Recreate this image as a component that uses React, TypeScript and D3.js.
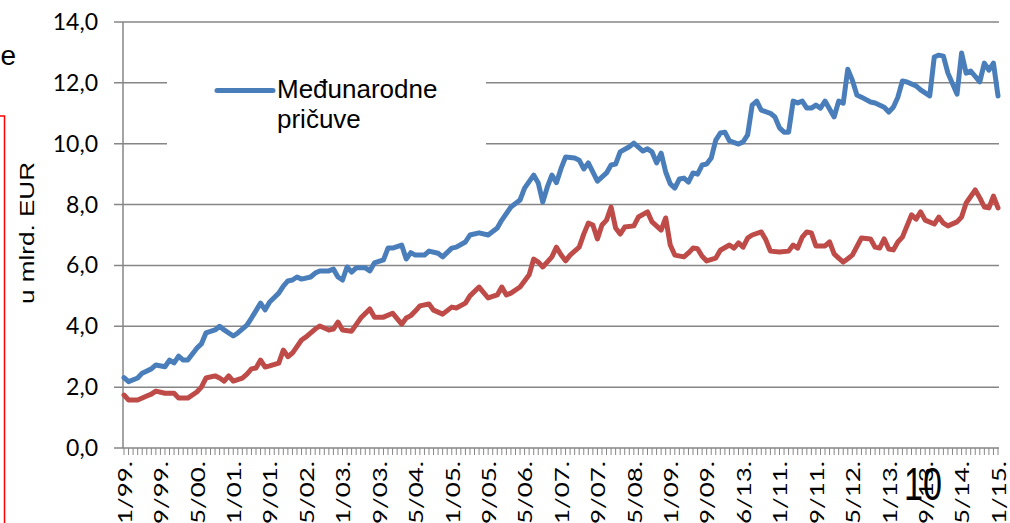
import * as d3 from 'd3'

// month index from 1/99 (0) to 1/15 (192)
const blueMonths = [0, 1, 3, 4, 6, 7, 9, 10, 11, 12, 13, 14, 16, 17, 18, 20, 21, 22, 24, 25, 27, 28, 30, 31, 32, 34, 35, 36, 37, 38, 39, 41, 42, 43, 45, 46, 47, 48, 49, 50, 51, 52, 53, 54, 55, 57, 58, 59, 61, 62, 63, 64, 66, 67, 69, 70, 72, 73, 75, 76, 78, 80, 82, 83, 85, 87, 88, 90, 91, 92, 93, 94, 95, 96, 97, 99, 100, 101, 102, 104, 106, 107, 108, 109, 111, 112, 114, 115, 116, 117, 118, 119, 120, 121, 122, 123, 124, 125, 126, 127, 128, 129, 130, 131, 132, 133, 135, 136, 137, 138, 139, 140, 142, 143, 144, 145, 146, 147, 148, 149, 150, 151, 152, 153, 154, 156, 157, 158, 159, 160, 161, 162, 164, 165, 167, 168, 169, 170, 171, 172, 174, 175, 177, 178, 179, 180, 181, 183, 184, 185, 186, 188, 189, 190, 191, 192]
const blueValues = [2.31, 2.18, 2.3, 2.46, 2.6, 2.73, 2.67, 2.89, 2.8, 3.02, 2.89, 2.89, 3.28, 3.42, 3.78, 3.88, 4.0, 3.88, 3.68, 3.78, 4.04, 4.27, 4.76, 4.54, 4.8, 5.09, 5.32, 5.49, 5.52, 5.62, 5.55, 5.62, 5.75, 5.82, 5.82, 5.88, 5.62, 5.52, 5.95, 5.78, 5.92, 5.92, 5.92, 5.82, 6.08, 6.18, 6.57, 6.57, 6.67, 6.21, 6.42, 6.34, 6.34, 6.47, 6.4, 6.28, 6.57, 6.6, 6.77, 7.0, 7.07, 7.0, 7.23, 7.49, 7.92, 8.15, 8.54, 8.97, 8.71, 8.08, 8.58, 8.97, 8.72, 9.18, 9.56, 9.53, 9.46, 9.17, 9.37, 8.77, 9.04, 9.3, 9.33, 9.73, 9.9, 10.02, 9.76, 9.83, 9.73, 9.37, 9.69, 9.07, 8.68, 8.54, 8.84, 8.87, 8.74, 9.04, 9.0, 9.3, 9.33, 9.53, 10.12, 10.35, 10.38, 10.09, 9.99, 10.06, 10.29, 11.27, 11.4, 11.1, 11.0, 10.88, 10.52, 10.38, 10.38, 11.4, 11.34, 11.4, 11.17, 11.17, 11.27, 11.17, 11.4, 10.88, 11.4, 11.33, 12.45, 12.09, 11.6, 11.53, 11.37, 11.34, 11.2, 11.04, 11.2, 11.53, 12.06, 12.03, 11.9, 11.77, 11.57, 12.85, 12.91, 12.88, 12.32, 11.63, 12.98, 12.32, 12.39, 12.03, 12.65, 12.42, 12.65, 11.57]

const redMonths = [0, 1, 3, 5, 6, 7, 9, 10, 11, 12, 14, 16, 17, 18, 20, 21, 22, 23, 24, 26, 27, 28, 29, 30, 31, 32, 34, 35, 36, 37, 39, 40, 42, 43, 45, 46, 47, 48, 50, 52, 54, 55, 57, 59, 61, 62, 63, 64, 65, 67, 68, 70, 72, 73, 75, 76, 78, 80, 82, 83, 84, 85, 87, 89, 90, 91, 92, 94, 95, 96, 97, 98, 100, 101, 102, 103, 104, 105, 106, 107, 108, 109, 110, 112, 113, 115, 116, 118, 119, 120, 121, 123, 124, 125, 126, 127, 128, 130, 131, 133, 134, 135, 136, 137, 138, 140, 141, 142, 144, 146, 147, 148, 149, 150, 151, 152, 154, 155, 156, 157, 158, 159, 160, 162, 164, 165, 166, 167, 168, 169, 170, 171, 173, 174, 175, 176, 178, 179, 180, 181, 183, 184, 185, 187, 188, 189, 190, 191, 192]
const redValues = [1.74, 1.58, 1.58, 1.71, 1.77, 1.87, 1.8, 1.8, 1.8, 1.64, 1.64, 1.84, 2.0, 2.3, 2.37, 2.3, 2.2, 2.37, 2.2, 2.3, 2.43, 2.6, 2.63, 2.89, 2.66, 2.7, 2.79, 3.22, 3.0, 3.12, 3.55, 3.65, 3.91, 4.01, 3.88, 3.91, 4.14, 3.88, 3.84, 4.27, 4.57, 4.3, 4.3, 4.43, 4.07, 4.27, 4.35, 4.5, 4.67, 4.73, 4.53, 4.4, 4.63, 4.6, 4.76, 5.0, 5.29, 4.93, 5.03, 5.29, 5.03, 5.09, 5.29, 5.69, 6.21, 6.11, 5.95, 6.28, 6.6, 6.35, 6.15, 6.34, 6.6, 7.03, 7.39, 7.33, 6.87, 7.33, 7.49, 7.92, 7.23, 7.03, 7.26, 7.3, 7.59, 7.76, 7.43, 7.16, 7.56, 6.67, 6.34, 6.28, 6.41, 6.57, 6.55, 6.3, 6.15, 6.24, 6.5, 6.67, 6.57, 6.74, 6.6, 6.9, 7.0, 7.1, 6.84, 6.47, 6.44, 6.47, 6.67, 6.57, 6.93, 7.1, 7.07, 6.64, 6.64, 6.77, 6.38, 6.24, 6.11, 6.22, 6.34, 6.9, 6.87, 6.6, 6.57, 6.87, 6.54, 6.51, 6.77, 6.93, 7.66, 7.52, 7.76, 7.49, 7.36, 7.59, 7.39, 7.3, 7.43, 7.59, 8.05, 8.48, 8.22, 7.92, 7.89, 8.28, 7.89]

const xLabels = ['1/99.', '9/99.', '5/00.', '1/01.', '9/01.', '5/02.', '1/03.', '9/03.', '5/04.', '1/05.', '9/05.', '5/06.', '1/07.', '9/07.', '5/08.', '1/09.', '9/09.', '6/13.', '1/11.', '9/11.', '5/12.', '1/13.', '9/13.', '5/14.', '1/15.']
const yTicks = [0, 2, 4, 6, 8, 10, 12, 14]
const legendLines = ['Međunarodne', 'pričuve']

const W = 1010
const H = 523
const margin = { top: 22, right: 12, bottom: 75, left: 124 }

export default function App() {
  const x = d3.scaleLinear().domain([0, 192]).range([margin.left, W - margin.right])
  const y = d3.scaleLinear().domain([0, 14]).range([H - margin.bottom, margin.top])
  const grid = '#868686'
  const calibri = 'Lato, "Open Sans", sans-serif'
  const arial = '"Liberation Sans", Arial, sans-serif'

  const line = d3.line<[number, number]>()
    .x((d) => x(d[0]))
    .y((d) => y(d[1]))
  const blue = blueMonths.map((m, i) => [m, blueValues[i]] as [number, number])
  const red = redMonths.map((m, i) => [m, redValues[i]] as [number, number])
  const months = d3.range(0, 193)
  const x0 = x(0) - 1
  const y0 = y(0)

  return (
    <svg width={W} height={H} style={{ position: 'absolute', left: 0, top: 0, background: '#fff' }}>
      {/* gridlines + y ticks */}
      {yTicks.map((t) => (
        <g key={t}>
          <line x1={x0 - 9} x2={x(192) + 1} y1={y(t)} y2={y(t)} stroke={grid} strokeWidth={1.5} />
          <text x={98} y={y(t)} dy="0.35em" textAnchor="end" fontFamily={calibri} fontSize={23} fill="#000">
            {t.toFixed(1).replace('.', ',')}
          </text>
        </g>
      ))}
      <line x1={x0} x2={x0} y1={y(14)} y2={y0} stroke={grid} strokeWidth={1.5} />
      {/* x ticks */}
      {months.map((m) => (
        <line key={m} x1={x(m)} x2={x(m)} y1={y0} y2={y0 + 7} stroke={grid} strokeWidth={1} />
      ))}
      {xLabels.map((lab, i) => (
        <text key={lab + i} transform={`translate(${x(i * 8)},461) rotate(-90) scale(1.3,1)`}
          textAnchor="end" dominantBaseline="central" fontFamily={calibri} fontSize={20} fill="#000">
          {lab}
        </text>
      ))}

      {/* legend */}
      <rect x={167} y={52} width={319} height={106} fill="#fff" />
      <line x1={217} x2={273} y1={90.5} y2={90.5} stroke="#4A7EBB" strokeWidth={5} strokeLinecap="round" />
      {legendLines.map((t, i) => (
        <text key={t} x={277} y={98 + i * 30} fontFamily={arial} fontSize={26} fill="#000">{t}</text>
      ))}

      <path d={line(red) ?? ''} fill="none" stroke="#BE4B48" strokeWidth={5} strokeLinejoin="round" strokeLinecap="round" />
      <path d={line(blue) ?? ''} fill="none" stroke="#4A7EBB" strokeWidth={5} strokeLinejoin="round" strokeLinecap="round" />

      {/* y axis title */}
      <text transform="translate(34,233) rotate(-90)" textAnchor="middle" fontFamily={arial} fontSize={21}
        textLength={142} lengthAdjust="spacingAndGlyphs" fill="#000">
        u mlrd. EUR
      </text>

      {/* clipped bits from the slide */}
      <text x={16} y={65} textAnchor="end" fontFamily={arial} fontSize={28} fill="#000">e</text>
      <rect x={-50} y={116} width={54.5} height={500} fill="none" stroke="#FF0000" strokeWidth={1.5} />
      <text x={923} y={500} textAnchor="middle" fontFamily={arial} fontSize={46} textLength={38}
        lengthAdjust="spacingAndGlyphs" fill="#000">10</text>
    </svg>
  )
}
